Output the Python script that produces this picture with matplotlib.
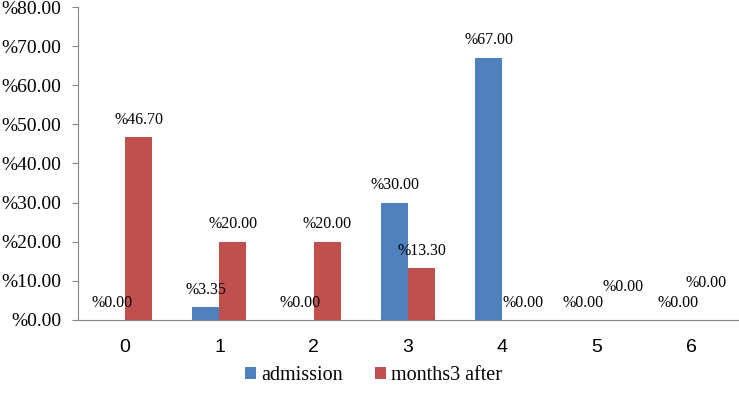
import matplotlib

matplotlib.use("Agg")
import matplotlib.pyplot as plt
import numpy as np

categories = ["0", "1", "2", "3", "4", "5", "6"]
admission = [0.00, 3.35, 0.00, 30.00, 67.00, 0.00, 0.00]
months3_after = [46.70, 20.00, 20.00, 13.30, 0.00, 0.00, 0.00]
y_ticks = [0, 10, 20, 30, 40, 50, 60, 70, 80]

# the source chart nudges a few of the zero labels around
adm_nudge = [(0, 0)] * 7
mon_nudge = [(0, 0), (0, 0), (0, 0), (0, 0), (5, 0), (9, 11), (1, 14)]

BLUE = "#4F81BD"
RED = "#C0504D"
GREY = "#868686"
SERIF = "Liberation Serif"
SANS = "Liberation Sans"

fig = plt.figure(figsize=(7.39, 4.07), dpi=100)
ax = fig.add_axes([0.1055, 0.2138, 0.8935, 0.769])

x = np.arange(len(categories))
w = 0.286
b1 = ax.bar(x - w / 2, admission, w, color=BLUE, label="admission")
b2 = ax.bar(x + w / 2, months3_after, w, color=RED, label="months3 after")

for bars, vals, nudge in [(b1, admission, adm_nudge), (b2, months3_after, mon_nudge)]:
    for rect, v, (dx, dy) in zip(bars, vals, nudge):
        ax.annotate(f"%{v:.2f}", (rect.get_x() + rect.get_width() / 2, v),
                    xytext=(dx, 12.5 + dy), textcoords="offset points",
                    ha="center", va="center", fontsize=11.5, family=SERIF)

ax.set_xlim(-0.5, 6.5)
ax.set_ylim(0, 80)
ax.set_yticks(y_ticks)
ax.set_yticklabels([f"%{t:.2f}" for t in y_ticks], family=SERIF, fontsize=14)
ax.set_xticks(x)
ax.set_xticklabels(categories, family=SANS, fontsize=14)
ax.tick_params(axis="x", length=0, pad=14)
ax.tick_params(axis="y", length=4, color=GREY, pad=8)

for s in ["top", "right"]:
    ax.spines[s].set_visible(False)
for s in ["left", "bottom"]:
    ax.spines[s].set_color(GREY)

fig.legend(handles=[b1, b2], loc="center", bbox_to_anchor=(0.505, 0.077), ncol=2,
           frameon=False, prop={"family": SERIF, "size": 14.5},
           handlelength=0.55, handleheight=0.55, handletextpad=0.25, columnspacing=1.6)

fig.savefig("out.png", dpi=100)
